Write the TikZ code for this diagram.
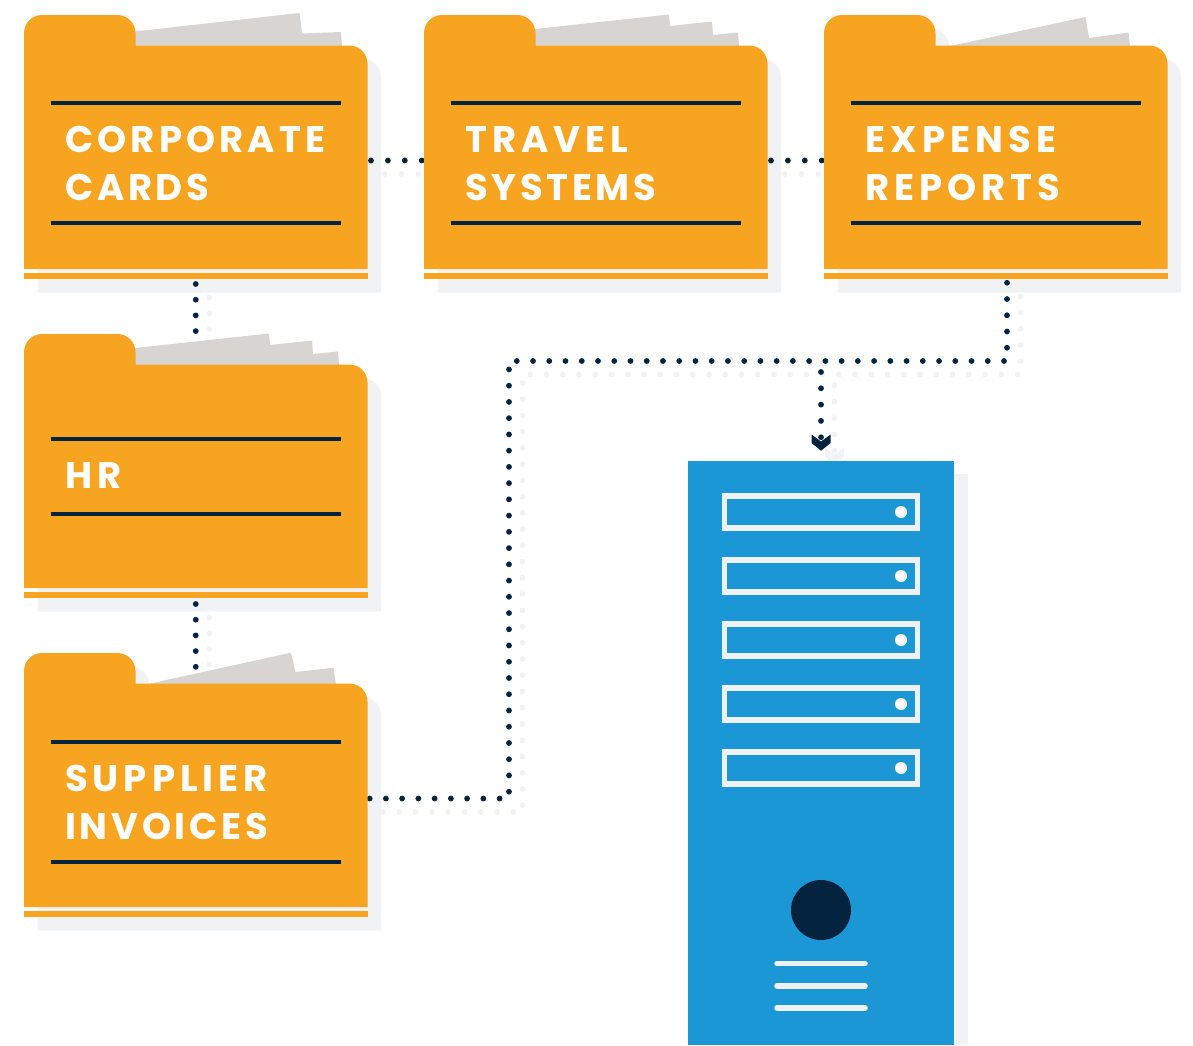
\documentclass[tikz,border=0pt]{standalone}
\usepackage{fontspec}
\setmainfont{Poppins}[LetterSpace=10]
\definecolor{orangefolder}{HTML}{F7A521}
\definecolor{navy}{HTML}{04233F}
\definecolor{paper}{HTML}{D7D4D1}
\definecolor{softshade}{HTML}{F1F2F4}
\definecolor{serverblue}{HTML}{1C97D5}
\definecolor{slotline}{HTML}{EEF1F4}
\newcommand{\folderpath}[1]{(24,#1) -- (24,33) .. controls (24,23.06) and (32.06,15) .. (42,15) -- (117.5,15) .. controls (127.44,15) and (135.5,23.06) .. (135.5,33) -- (135.5,45.5) -- (349.5,45.5) .. controls (359.44,45.5) and (367.5,53.56) .. (367.5,63.5) -- (367.5,#1) -- cycle}
\newcommand{\folderfront}[1]{%
  \begin{scope}[shift={(#1)}]
    \fill[orangefolder] \folderpath{269};
    \fill[orangefolder] (24,273) rectangle (367.5,279);
  \end{scope}}
\newcommand{\foldershadow}[1]{%
  \begin{scope}[shift={(#1)},shift={(13.5,13.5)}]
    \fill[softshade] \folderpath{279};
  \end{scope}}
\newcommand{\paperA}[1]{\fill[paper,shift={(#1)}] (135,46) -- (135,31.5) -- (299.5,13) -- (302,33.5) -- (341,32) -- (342,46) -- cycle;}
\newcommand{\paperB}[1]{\fill[paper,shift={(#1)}] (135,46) -- (135,29) -- (269,14.5) -- (270,26) -- (312,21.5) -- (313,35) -- (338,32.5) -- (339,46) -- cycle;}
\newcommand{\paperC}[1]{\fill[paper,shift={(#1)}] (150,46) -- (285.5,17) -- (289,38) -- (328.5,32.5) -- (330,46) -- cycle;}
\newcommand{\paperD}[1]{\fill[paper,shift={(#1)}] (148,46) -- (291,14.7) -- (295.5,34) -- (333.5,29.7) -- (336,46) -- cycle;}
\newcommand{\chevron}{\fill (srv.north) ++(-9.4,-26.5) -- ++(9.4,7) -- ++(9.6,-7) -- ++(0,8.5) -- ++(-9.6,7.7) -- ++(-9.4,-7.7) -- cycle;}
\newcommand{\allconnectors}{%
  \draw[dots={16.9}{13.4}] (corp.east) -- (trav.west);
  \draw[dots={16.9}{13.4}] (trav.east) -- (exp.west);
  \draw[dots={15.7}{10.7},shorten >=28pt] (corp.south) -- (hr.north);
  \draw[dots={15.7}{9.7},shorten >=10pt] (hr.south) -- (supp.north);
  \draw[dots={16.24}{12.44}] (expout) |- (cornerA) |- (supp.east);
  \draw[dots={16.3}{5.3},shorten >=22pt] (junc) -- (srv.north);
  \chevron}
\newcommand{\spaced}[2]{\addfontfeature{LetterSpace=#1}#2}
\tikzset{
  x=1pt,y=-1pt,
  anchorbox/.style={minimum width=343.5pt,minimum height=237pt,inner sep=0pt,outer sep=0pt},
  serveranchor/.style={minimum width=266pt,minimum height=584pt,inner sep=0pt,outer sep=0pt},
  dots/.style 2 args={line width=5.8pt,line cap=round,dash pattern=on 0pt off #1pt,dash phase=#2pt},
  rule/.style={navy,line width=4pt},
  foldertext/.style={text=white,anchor=base west,inner sep=0pt,font=\fontsize{37}{48}\selectfont\bfseries,align=left},
  slot/.style={draw=slotline,line width=5.3pt,fill=none},
  ledlight/.style={fill=white},
  serverline/.style={slotline,line width=5.5pt,line cap=round},
}
\begin{document}
\begin{tikzpicture}
\useasboundingbox (0,0) rectangle (1193,1045);
\clip (0,0) rectangle (1193,1045);
% invisible anchors
\node[anchorbox] (corp) at (195.75,160.5) {};
\node[anchorbox] (trav) at (595.75,160.5) {};
\node[anchorbox] (exp) at (995.75,160.5) {};
\node[anchorbox] (hr) at (195.75,479.5) {};
\node[anchorbox] (supp) at (195.75,798.5) {};
\node[serveranchor] (srv) at (821,753) {};
\coordinate (expout) at ([xshift=11.25pt]exp.south);
\coordinate (junc) at (821,361);
\coordinate (cornerA) at (509,361);
% shadows
\foldershadow{0,0}\foldershadow{400,0}\foldershadow{800,0}\foldershadow{0,319}\foldershadow{0,638}
\fill[softshade] (700,474) rectangle (968,1045);
\begin{scope}[transform canvas={xshift=13.5pt,yshift=-13.5pt},color=softshade]
  \allconnectors
\end{scope}
% papers
\paperA{0,0}\paperB{400,0}\paperC{800,0}\paperB{0,319}\paperD{0,638}
% connectors
\begin{scope}[color=navy]
  \allconnectors
\end{scope}
% folders
\folderfront{0,0}\folderfront{400,0}\folderfront{800,0}\folderfront{0,319}\folderfront{0,638}
% rules
\draw[rule] (50.5,102.5) -- (341,102.5); \draw[rule] (50.5,223) -- (341,223);
\draw[rule] (450.5,102.5) -- (741,102.5); \draw[rule] (450.5,223) -- (741,223);
\draw[rule] (850.5,102.5) -- (1141,102.5); \draw[rule] (850.5,223) -- (1141,223);
\draw[rule] (50.5,439) -- (341,439); \draw[rule] (50.5,514) -- (341,514);
\draw[rule] (50.5,741.5) -- (341,741.5); \draw[rule] (50.5,861.5) -- (341,861.5);
% labels
\node[foldertext] (l1a) at (65,152) {\spaced{11.2}{CORPORATE}};
\node[foldertext] (l1b) at (65,200) {CARDS};
\node[foldertext] (l2a) at (465,152) {\spaced{13.6}{TRAVEL}};
\node[foldertext] (l2b) at (465,200) {SYSTEMS};
\node[foldertext] (l3a) at (865,152) {\spaced{14.2}{EXPENSE}};
\node[foldertext] (l3b) at (865,200) {\spaced{13.5}{REPORTS}};
\node[foldertext] (l4) at (65,488) {\spaced{14}{HR}};
\node[foldertext] (l5a) at (65,791) {\spaced{13.4}{SUPPLIER}};
\node[foldertext] (l5b) at (65,839) {INVOICES};
% server
\fill[serverblue] (srv.south west) rectangle (srv.north east);
\foreach \yy in {512,576,640,704,768}{
  \draw[slot] (724.4,\yy-16) rectangle (917.6,\yy+16);
  \fill[ledlight] (901,\yy) circle (6);
}
\fill[navy] (821,910) circle (30);
\draw[serverline] (777,963.7) -- (865,963.7);
\draw[serverline] (777,986) -- (865,986);
\draw[serverline] (777,1008) -- (865,1008);
\end{tikzpicture}
\end{document}
